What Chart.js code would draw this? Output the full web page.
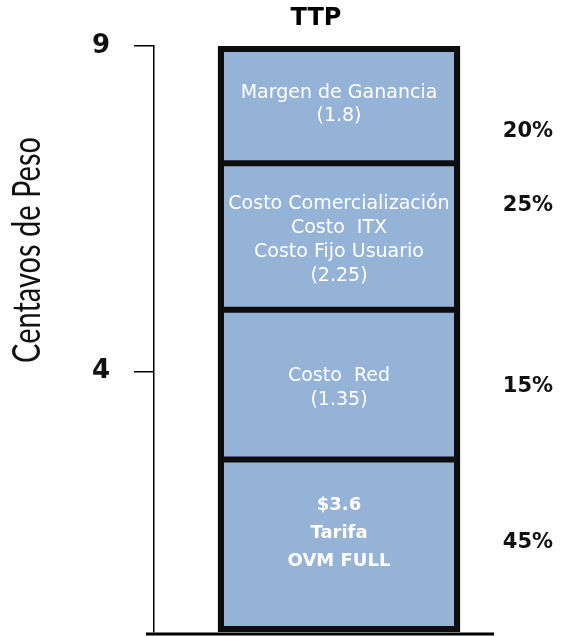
<!DOCTYPE html>
<html>
<head>
<meta charset="utf-8">
<script src="https://cdn.jsdelivr.net/npm/chart.js@4"></script>
<style>
  body { margin: 0; background: #fff; }
  canvas { display: block; }
</style>
</head>
<body>
<canvas id="ttpChart" width="563" height="637"></canvas>
<script>
// datos del grafico
const categorias = ["TTP"];
const alturas = [2.65, 2.3, 2.25, 1.8]; // altura dibujada de cada tramo (de abajo hacia arriba)
const etiquetas = [
  ["$3.6", "Tarifa", "OVM FULL"],
  ["Costo  Red", "(1.35)"],
  ["Costo Comercialización", "Costo  ITX", "Costo Fijo Usuario", "(2.25)"],
  ["Margen de Ganancia", "(1.8)"]
];
const porcentajes = ["45%", "15%", "25%", "20%"];
const yTicks = [4, 9];
const yTitulo = "Centavos de Peso";

const azul = "#95b3d7";
const borde = "#0d0d0d";

// ajustes de texto por tramo
const textoOffset = [-12, 3, 4, 0];
const textoLinea = [28, 24, 24, 23];
const pctOffset = [-3, 2, -31, 27];

// contorno y separadores de la barra, sacados de los elementos
const bordesPlugin = {
  id: "bordes",
  afterDatasetsDraw(chart) {
    const ctx = chart.ctx;
    const metas = alturas.map((_, i) => chart.getDatasetMeta(i).data[0]);
    const first = metas[0];
    const last = metas[metas.length - 1];
    const left = first.x - first.width / 2;
    const right = first.x + first.width / 2;
    const w = 6;

    ctx.save();
    ctx.strokeStyle = borde;
    ctx.lineWidth = w;
    ctx.lineJoin = "miter";
    ctx.strokeRect(left + w / 2, last.y + w / 2, right - left - w, first.base - last.y - w);
    metas.slice(0, -1).forEach(bar => {
      ctx.beginPath();
      ctx.moveTo(left, bar.y);
      ctx.lineTo(right, bar.y);
      ctx.stroke();
    });
    ctx.restore();
  }
};

const textosPlugin = {
  id: "textos",
  afterDatasetsDraw(chart) {
    const ctx = chart.ctx;
    const area = chart.chartArea;
    ctx.save();

    // linea base
    ctx.strokeStyle = "#000";
    ctx.lineWidth = 3;
    ctx.beginPath();
    ctx.moveTo(area.left - 8, area.bottom + 2);
    ctx.lineTo(area.right - 30, area.bottom + 2);
    ctx.stroke();

    ctx.textAlign = "center";
    ctx.textBaseline = "middle";

    alturas.forEach((_, i) => {
      const bar = chart.getDatasetMeta(i).data[0];
      const cy = (bar.y + bar.base) / 2;
      const lines = etiquetas[i];
      const lh = textoLinea[i];
      const start = cy + textoOffset[i] - (lines.length - 1) * lh / 2;

      ctx.fillStyle = "#ffffff";
      ctx.font = (i === 0 ? "bold 18px" : "19px") + " 'DejaVu Sans'";
      lines.forEach((t, k) => ctx.fillText(t, bar.x, start + k * lh));

      ctx.fillStyle = "#111";
      ctx.font = "bold 21px 'DejaVu Sans'";
      ctx.fillText(porcentajes[i], bar.x + 189, cy + pctOffset[i]);
    });

    // titulo
    ctx.fillStyle = "#000";
    ctx.font = "bold 24px 'DejaVu Sans'";
    ctx.fillText(categorias[0], 316, 19);

    // titulo del eje
    ctx.translate(28, 250);
    ctx.scale(1.3, 1);
    ctx.rotate(-Math.PI / 2);
    ctx.fillStyle = "#111";
    ctx.font = "29px Lato";
    ctx.fillText(yTitulo, 0, 0);
    ctx.restore();
  }
};

const chart = new Chart(document.getElementById("ttpChart"), {
  type: "bar",
  data: {
    labels: categorias,
    datasets: alturas.map((v, i) => ({
      label: etiquetas[i].join(" "),
      data: [v],
      backgroundColor: azul,
      borderWidth: 0,
      barThickness: 242
    }))
  },
  options: {
    responsive: false,
    animation: false,
    layout: { padding: { top: 46, right: 39, bottom: 5, left: 0 } },
    plugins: {
      legend: { display: false },
      tooltip: { enabled: false }
    },
    scales: {
      x: {
        stacked: true,
        display: false
      },
      y: {
        stacked: true,
        min: 0,
        max: 9,
        afterBuildTicks(scale) {
          scale.ticks = yTicks.map(v => ({ value: v }));
        },
        afterFit(scale) {
          scale.width = 154;
          scale.paddingTop = 0;
          scale.paddingBottom = 0;
        },
        ticks: {
          color: "#111",
          padding: 24,
          font: { family: "DejaVu Sans", size: 26, weight: "bold" }
        },
        grid: {
          drawOnChartArea: false,
          tickLength: 20,
          color: "#000",
          lineWidth: 1.5
        },
        border: { display: true, color: "#000", width: 1.5 }
      }
    }
  },
  plugins: [bordesPlugin, textosPlugin]
});
</script>
</body>
</html>
